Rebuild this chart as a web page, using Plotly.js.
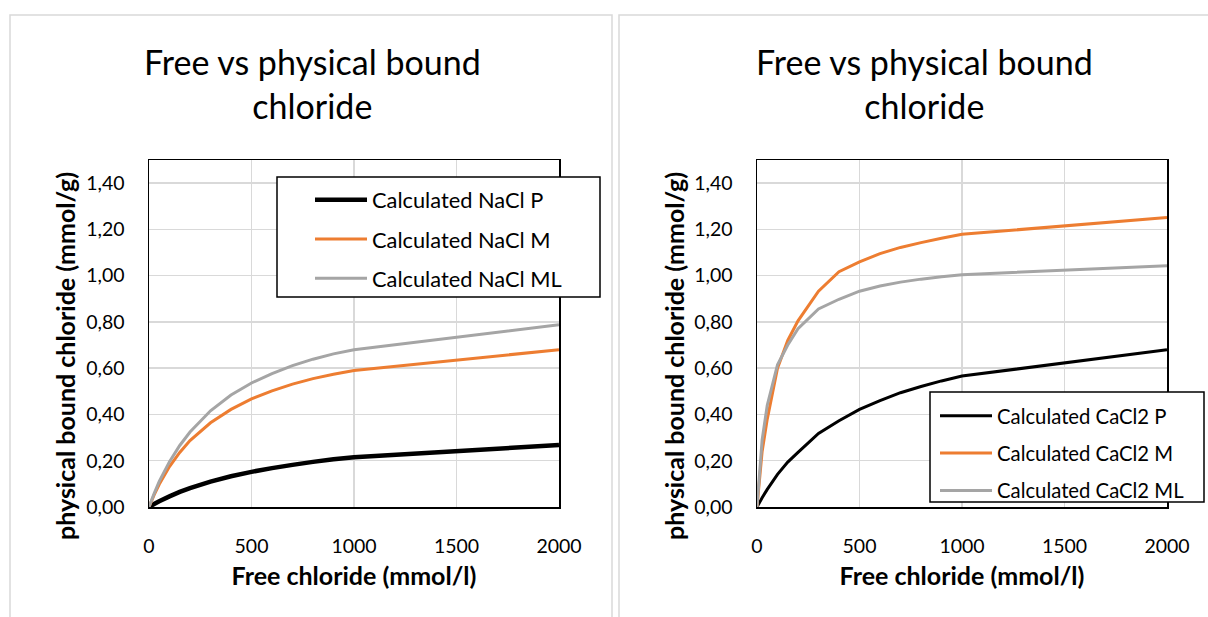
<!DOCTYPE html>
<html>
<head>
<meta charset="utf-8">
<script src="https://cdn.plot.ly/plotly-3.0.1.min.js"></script>
<style>
  html, body { margin: 0; padding: 0; background: #ffffff; }
  #chart { width: 1208px; height: 617px; }
</style>
</head>
<body>
<div id="chart"></div>
<script>
// Free chloride concentration (mmol/l)
const freeChloride = [0, 25, 50, 100, 150, 200, 300, 400, 500, 600, 700, 800, 900, 1000, 2000];

// Physically bound chloride (mmol/g), NaCl exposure
const naclP  = [0, 0.013, 0.025, 0.046, 0.065, 0.082, 0.110, 0.133, 0.152, 0.168, 0.182, 0.195, 0.206, 0.215, 0.268];
const naclM  = [0, 0.052, 0.098, 0.175, 0.236, 0.287, 0.364, 0.422, 0.467, 0.502, 0.531, 0.555, 0.574, 0.590, 0.680];
const naclML = [0, 0.058, 0.111, 0.196, 0.266, 0.324, 0.416, 0.484, 0.536, 0.577, 0.611, 0.639, 0.662, 0.680, 0.788];

// Physically bound chloride (mmol/g), CaCl2 exposure
const cacl2P  = [0, 0.040, 0.076, 0.141, 0.194, 0.236, 0.318, 0.373, 0.422, 0.460, 0.494, 0.521, 0.545, 0.566, 0.680];
const cacl2M  = [0, 0.240, 0.380, 0.600, 0.720, 0.805, 0.933, 1.017, 1.060, 1.095, 1.122, 1.143, 1.162, 1.179, 1.251];
const cacl2ML = [0, 0.290, 0.440, 0.615, 0.700, 0.771, 0.856, 0.898, 0.933, 0.955, 0.972, 0.985, 0.995, 1.004, 1.043];

const seriesNames = {
  nacl: ['Calculated NaCl P', 'Calculated NaCl M', 'Calculated NaCl ML'],
  cacl2: ['Calculated CaCl2 P', 'Calculated CaCl2 M', 'Calculated CaCl2 ML']
};
const yTicks = [0, 0.2, 0.4, 0.6, 0.8, 1.0, 1.2, 1.4];

const W = 1208, H = 617;
const px = v => v / W;
const py = v => 1 - v / H;

const FONT = 'Lato, "Open Sans", sans-serif';
const BLACK = '#000000', ORANGE = '#ED7D31', GREY = '#A5A5A5';

function line(x, y, name, color, width, xa, ya, legend) {
  return {
    type: 'scatter', mode: 'lines', x: x, y: y, name: name,
    xaxis: xa, yaxis: ya, legend: legend, legendgroup: name,
    line: { color: color, width: width, shape: 'linear', simplify: false },
    hoverinfo: 'x+y+name'
  };
}

const traces = [
  line(freeChloride, naclP,  seriesNames.nacl[0], BLACK, 4.5, 'x', 'y', 'legend'),
  line(freeChloride, naclM,  seriesNames.nacl[1], ORANGE, 3, 'x', 'y', 'legend'),
  line(freeChloride, naclML, seriesNames.nacl[2], GREY, 3, 'x', 'y', 'legend'),
  line(freeChloride, cacl2P,  seriesNames.cacl2[0], BLACK, 3, 'x2', 'y2', 'legend2'),
  line(freeChloride, cacl2M,  seriesNames.cacl2[1], ORANGE, 3, 'x2', 'y2', 'legend2'),
  line(freeChloride, cacl2ML, seriesNames.cacl2[2], GREY, 3, 'x2', 'y2', 'legend2')
];

function xAxis(domain, anchor) {
  return {
    domain: domain, anchor: anchor, range: [0, 2000], tick0: 0, dtick: 500,
    showgrid: true, gridcolor: '#d9d9d9', gridwidth: 1.5, zeroline: false,
    showline: true, mirror: true, linecolor: BLACK, linewidth: 1.5,
    ticks: '', ticklabelstandoff: 21,
    tickfont: { family: FONT, size: 19.5, color: '#000' },
    title: { text: '<b>Free chloride (mmol/l)</b>', font: { family: FONT, size: 25, color: '#000' }, standoff: 11 },
    fixedrange: true
  };
}
function yAxis(domain, anchor) {
  return {
    domain: domain, anchor: anchor, range: [0, 1.5], tickvals: yTicks, tickformat: '.2f',
    showgrid: true, gridcolor: '#d9d9d9', gridwidth: 1.5, zeroline: false,
    showline: true, mirror: true, linecolor: BLACK, linewidth: 1.5,
    ticks: '', ticklabelstandoff: 19,
    tickfont: { family: FONT, size: 19.5, color: '#000' },
    fixedrange: true
  };
}

const yDom = [py(507), py(160)];

function legendBox(x0, y0, x1, y1) {
  return { type: 'rect', xref: 'paper', yref: 'paper', x0: px(x0), x1: px(x1), y0: py(y1), y1: py(y0),
           line: { color: BLACK, width: 1.5 }, fillcolor: '#ffffff', layer: 'above' };
}
function panel(x0, x1) {
  return { type: 'rect', xref: 'paper', yref: 'paper', x0: px(x0), x1: px(x1), y0: -0.1, y1: py(15),
           line: { color: '#d9d9d9', width: 1.5 }, fillcolor: 'rgba(0,0,0,0)', layer: 'below' };
}

const layout = {
  width: W, height: H,
  margin: { l: 0, r: 0, t: 0, b: 0 },
  paper_bgcolor: '#ffffff', plot_bgcolor: '#ffffff',
  separators: ',.',
  font: { family: FONT, color: '#000' },
  showlegend: true,
  xaxis: xAxis([px(149), px(559)], 'y'),
  yaxis: yAxis(yDom, 'x'),
  xaxis2: xAxis([px(757), px(1167)], 'y2'),
  yaxis2: yAxis(yDom, 'x2'),
  legend: {
    x: px(310), y: py(179), xanchor: 'left', yanchor: 'top',
    bgcolor: 'rgba(0,0,0,0)', borderwidth: 0, itemwidth: 52,
    tracegroupgap: 8, traceorder: 'grouped',
    font: { family: FONT, size: 21.8, color: '#000' }
  },
  legend2: {
    x: px(935), y: py(396), xanchor: 'left', yanchor: 'top',
    bgcolor: 'rgba(0,0,0,0)', borderwidth: 0, itemwidth: 52,
    tracegroupgap: 8, traceorder: 'grouped',
    font: { family: FONT, size: 20.3, color: '#000' }
  },
  shapes: [
    panel(10, 612),
    panel(619, 1230),
    legendBox(277, 177, 600, 297),
    legendBox(930, 392, 1204, 502)
  ],
  annotations: [
    { xref: 'paper', yref: 'paper', x: px(312), y: py(84), xanchor: 'center', yanchor: 'middle',
      text: 'Free vs physical bound<br>chloride', showarrow: false, align: 'center',
      font: { family: FONT, size: 34, color: '#000' } },
    { xref: 'paper', yref: 'paper', x: px(924), y: py(84), xanchor: 'center', yanchor: 'middle',
      text: 'Free vs physical bound<br>chloride', showarrow: false, align: 'center',
      font: { family: FONT, size: 34, color: '#000' } },
    { xref: 'paper', yref: 'paper', x: px(65), y: py(356), xanchor: 'center', yanchor: 'middle',
      text: '<b>physical bound chloride (mmol/g)</b>', textangle: -90, showarrow: false,
      font: { family: FONT, size: 25, color: '#000' } },
    { xref: 'paper', yref: 'paper', x: px(674), y: py(356), xanchor: 'center', yanchor: 'middle',
      text: '<b>physical bound chloride (mmol/g)</b>', textangle: -90, showarrow: false,
      font: { family: FONT, size: 25, color: '#000' } }
  ]
};

Plotly.newPlot('chart', traces, layout, { staticPlot: true, displayModeBar: false });
</script>
</body>
</html>
